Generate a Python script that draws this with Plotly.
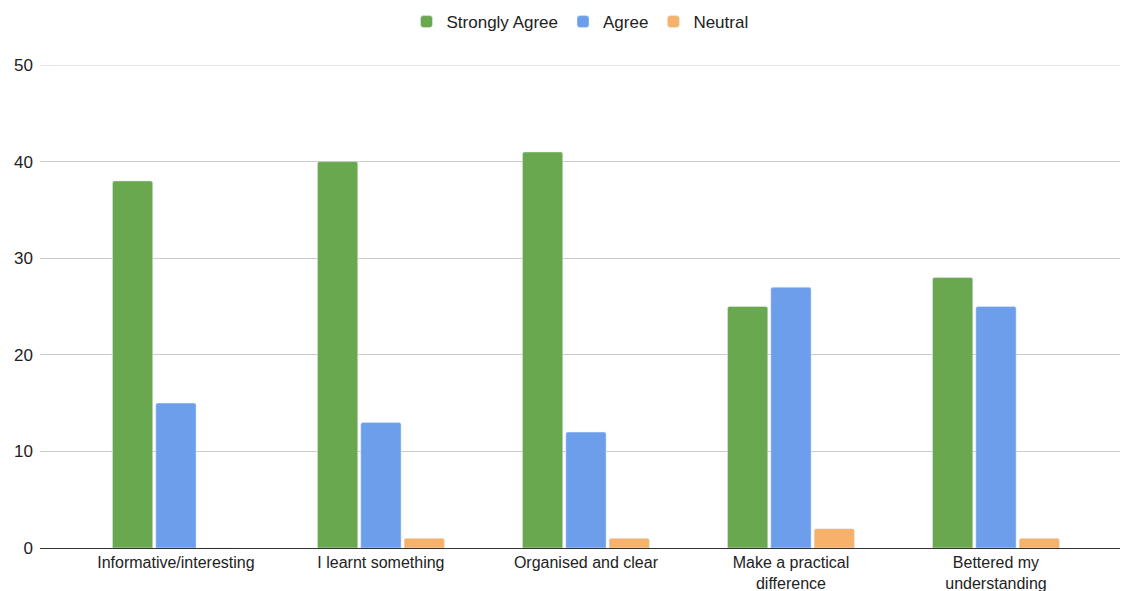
import plotly.graph_objects as go

categories = ["Informative/interesting", "I learnt something", "Organised and clear",
              "Make a practical<br>difference", "Bettered my<br>understanding"]
strongly_agree = [38, 40, 41, 25, 28]
agree = [15, 13, 12, 27, 25]
neutral = [0, 1, 1, 2, 1]
y_ticks = [0, 10, 20, 30, 40, 50]
y_max = 50

fig = go.Figure()
fig.add_trace(go.Bar(name="Strongly Agree", x=categories, y=strongly_agree, marker_color="#6aa84f"))
fig.add_trace(go.Bar(name="Agree", x=categories, y=agree, marker_color="#6d9eeb"))
fig.add_trace(go.Bar(name="Neutral", x=categories, y=neutral, marker_color="#f6b26b"))

# top gridline (at the range edge plotly omits it)
fig.add_shape(type="line", xref="paper", x0=0, x1=1, yref="y", y0=y_max, y1=y_max,
              line=dict(color="#cccccc", width=1), layer="below")

fig.update_layout(
    width=1121, height=591,
    margin=dict(l=40, r=1, t=65, b=43),
    paper_bgcolor="white", plot_bgcolor="white",
    font=dict(family="Liberation Sans, Arial", size=17, color="#222222"),
    barmode="group", bargap=0.366, bargroupgap=0.07, barcornerradius=2,
    legend=dict(orientation="h", x=0.5, xanchor="center", y=1.089, yanchor="middle",
                font=dict(size=17, color="#222222"), traceorder="normal"),
    xaxis=dict(range=[-0.663, 4.605], showline=True, linecolor="#333333", linewidth=1,
               showgrid=False, ticks="", automargin=False,
               tickfont=dict(size=16, color="#222222")),
    yaxis=dict(range=[0, y_max], tickvals=y_ticks, showgrid=True, gridcolor="#cccccc",
               gridwidth=1, zeroline=False, ticks="", ticklabelstandoff=6, automargin=False,
               tickfont=dict(size=17, color="#222222")),
)
fig.write_html("out.html")
